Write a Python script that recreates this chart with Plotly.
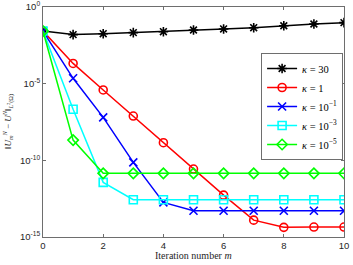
import plotly.graph_objects as go

iterations = list(range(11))
err_k30 = [10**v for v in [-1.57, -1.80, -1.74, -1.67, -1.61, -1.50, -1.43, -1.35, -1.22, -1.11, -1.02]]
err_k1 = [10**v for v in [-1.57, -3.68, -5.41, -7.11, -8.85, -10.57, -12.27, -13.90, -14.37, -14.35, -14.35]]
err_k1e1 = [10**v for v in [-1.57, -4.65, -7.20, -10.13, -12.74, -13.29, -13.29, -13.29, -13.29, -13.29, -13.29]]
err_k1e3 = [10**v for v in [-1.57, -6.67, -11.44, -12.57, -12.57, -12.57, -12.57, -12.57, -12.57, -12.57, -12.57]]
err_k1e5 = [10**v for v in [-1.57, -8.68, -10.85, -10.85, -10.85, -10.85, -10.85, -10.85, -10.85, -10.85, -10.85]]

series = [
    ("<i>κ</i> = 30", err_k30, "#000000", "asterisk-open"),
    ("<i>κ</i> = 1", err_k1, "#ff0000", "circle-open"),
    ("<i>κ</i> = 10<sup>−1</sup>", err_k1e1, "#0000ff", "x-thin-open"),
    ("<i>κ</i> = 10<sup>−3</sup>", err_k1e3, "#00ffff", "square-open"),
    ("<i>κ</i> = 10<sup>−5</sup>", err_k1e5, "#00ff00", "diamond-open"),
]

y_tickvals = [1e0, 1e-5, 1e-10, 1e-15]
y_ticktext = ["10<sup>0</sup>", "10<sup>-5</sup>", "10<sup>-10</sup>", "10<sup>-15</sup>"]
x_tickvals = [0, 2, 4, 6, 8, 10]

fig = go.Figure()
for name, ys, col, sym in series:
    fig.add_trace(go.Scatter(
        x=iterations, y=ys, mode="lines+markers", name=name,
        line=dict(color=col, width=1.5),
        marker=dict(symbol=sym, size=8, color=col, line=dict(color=col, width=1.6)),
    ))

axis_col = "#6e6e6e"
serif = "Liberation Serif, DejaVu Serif"
fig.update_layout(
    width=353, height=265,
    margin=dict(l=43, r=9, t=7, b=28),
    paper_bgcolor="white", plot_bgcolor="white",
    font=dict(family="Liberation Sans, Arial", size=9, color="#262626"),
    showlegend=True,
    legend=dict(
        x=0.997, y=0.80, xanchor="right", yanchor="top",
        bordercolor=axis_col, borderwidth=1, bgcolor="white",
        font=dict(family=serif, size=10.5, color="#000"),
        tracegroupgap=0, itemwidth=30,
    ),
    xaxis=dict(
        range=[0, 10], tickvals=x_tickvals, ticks="inside", ticklen=3,
        showgrid=False, zeroline=False, showline=True, linecolor=axis_col,
        linewidth=1, mirror="ticks", tickcolor=axis_col, automargin=False,
        tickfont=dict(size=9.5),
    ),
    yaxis=dict(
        type="log", range=[-15, 0], tickvals=y_tickvals, ticktext=y_ticktext,
        ticks="inside", ticklen=3, showgrid=False, zeroline=False,
        showline=True, linecolor=axis_col, linewidth=1, mirror="ticks",
        tickcolor=axis_col, automargin=False, tickfont=dict(size=9.5),
    ),
    annotations=[
        dict(
            text="‖<i>U</i><sub><i>m</i></sub><sup><i>N</i></sup> − <i>U</i><sup><i>N</i></sup>‖<sub><i>L</i><sup>2</sup>(Ω)</sub>",
            xref="paper", yref="paper", x=-0.116, y=0.5, textangle=-90,
            showarrow=False, xanchor="center", yanchor="middle",
            font=dict(family=serif, size=9, color="#262626"),
        ),
        dict(
            text="Iteration number <i>m</i>",
            xref="paper", yref="paper", x=0.5, y=-0.079,
            showarrow=False, xanchor="center", yanchor="middle",
            font=dict(family=serif, size=10, color="#262626"),
        ),
    ],
)

fig.write_html(
    "out.html",
    config={"displayModeBar": False},
    post_script="document.body.style.margin='0';document.body.style.overflow='hidden';",
)
